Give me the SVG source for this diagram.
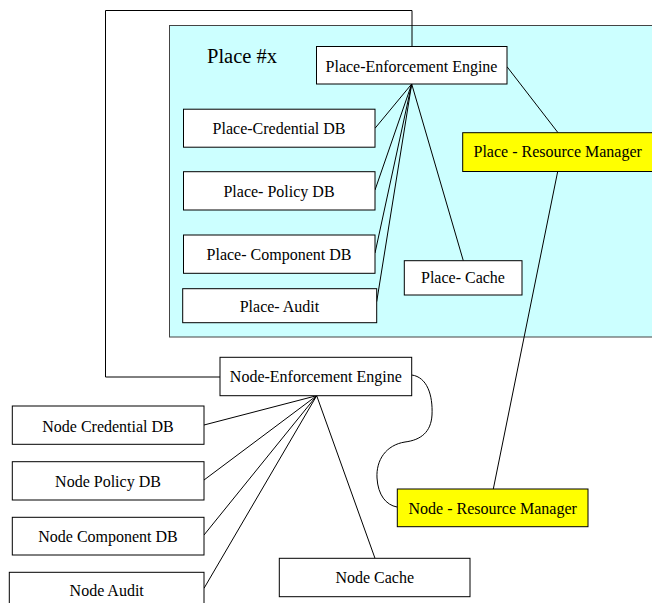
<svg xmlns="http://www.w3.org/2000/svg" width="652" height="603" viewBox="0 0 652 603">
<style>
.box{fill:#ffffff;stroke:#000000;stroke-width:1}
.yel{fill:#ffff00;stroke:#000000;stroke-width:1}
.t{font-family:"Liberation Serif","Times New Roman",serif;font-size:16px;fill:#000000;text-anchor:middle}
.c{stroke:#000000;stroke-width:1;fill:none}
</style>
<rect width="652" height="603" fill="#ffffff"/>
<g id="place-x">
<rect x="169.5" y="25.5" width="500" height="311.5" fill="#ccffff" stroke="#444444" stroke-width="1"/>
<text x="207" y="63" font-family="Liberation Serif, serif" font-size="20.5" fill="#000">Place #x</text>
</g>
<g id="connectors">
<polyline class="c" points="412,46 412,10.5 105.5,10.5 105.5,377 220,377"/>
<line class="c" x1="411.7" y1="84" x2="375" y2="128.3"/>
<line class="c" x1="411.7" y1="84" x2="375" y2="190"/>
<line class="c" x1="411.7" y1="84" x2="375" y2="253"/>
<line class="c" x1="411.7" y1="84" x2="376.7" y2="301.7"/>
<line class="c" x1="411.7" y1="84" x2="463.3" y2="260.7"/>
<line class="c" x1="507" y1="66.7" x2="558" y2="132.7"/>
<line class="c" x1="557.7" y1="171.5" x2="493.3" y2="489"/>
<line class="c" x1="316.7" y1="395.7" x2="204" y2="425"/>
<line class="c" x1="316.7" y1="395.7" x2="204" y2="480"/>
<line class="c" x1="316.7" y1="395.7" x2="204" y2="535"/>
<line class="c" x1="316.7" y1="395.7" x2="204" y2="588.3"/>
<line class="c" x1="316.7" y1="395.7" x2="375" y2="558.3"/>
<path class="c" d="M411.7,375 C427,377 433,395 432,415 C431,432 421,440 405,442 C386,445 376,460 377,478 C378,495 386,505 397,507"/>
</g>
<g id="place-enforcement-engine">
<rect class="box" x="316.5" y="46.5" width="190.5" height="37.5"/>
<text class="t" x="411.5" y="71.5">Place-Enforcement Engine</text>
</g>
<g id="place-resource-manager">
<rect class="yel" x="462.7" y="132.7" width="191" height="38.8"/>
<text class="t" x="557.7" y="157">Place - Resource Manager</text>
</g>
<g id="place-credential-db">
<rect class="box" x="183.5" y="109.2" width="191.5" height="38"/>
<text class="t" x="279" y="133.5">Place-Credential DB</text>
</g>
<g id="place-policy-db">
<rect class="box" x="183.5" y="171.7" width="191.5" height="38.3"/>
<text class="t" x="279" y="196.7">Place- Policy DB</text>
</g>
<g id="place-component-db">
<rect class="box" x="183.5" y="235" width="191.5" height="38.3"/>
<text class="t" x="279" y="260">Place- Component DB</text>
</g>
<g id="place-audit">
<rect class="box" x="182.7" y="288.7" width="194" height="34"/>
<text class="t" x="279.5" y="311.7">Place- Audit</text>
</g>
<g id="place-cache">
<rect class="box" x="404.3" y="260.7" width="117.7" height="34.3"/>
<text class="t" x="463" y="283">Place- Cache</text>
</g>
<g id="node-enforcement-engine">
<rect class="box" x="220" y="357.3" width="191.7" height="38.4"/>
<text class="t" x="315.8" y="382">Node-Enforcement Engine</text>
</g>
<g id="node-credential-db">
<rect class="box" x="12.3" y="406" width="191.7" height="38.3"/>
<text class="t" x="108" y="431.7">Node Credential DB</text>
</g>
<g id="node-policy-db">
<rect class="box" x="12.3" y="461.7" width="191.7" height="38.3"/>
<text class="t" x="108" y="486.7">Node Policy DB</text>
</g>
<g id="node-component-db">
<rect class="box" x="12.3" y="517.3" width="191.7" height="37.7"/>
<text class="t" x="108" y="541.7">Node Component DB</text>
</g>
<g id="node-audit">
<rect class="box" x="9.3" y="572.3" width="194.7" height="40"/>
<text class="t" x="106.7" y="595.7">Node Audit</text>
</g>
<g id="node-cache">
<rect class="box" x="279.3" y="558.3" width="190.7" height="38.4"/>
<text class="t" x="374.7" y="583" font-size="18">Node Cache</text>
</g>
<g id="node-resource-manager">
<rect class="yel" x="397.3" y="489" width="190.7" height="37.7"/>
<text class="t" x="492.7" y="514">Node - Resource Manager</text>
</g>
</svg>
